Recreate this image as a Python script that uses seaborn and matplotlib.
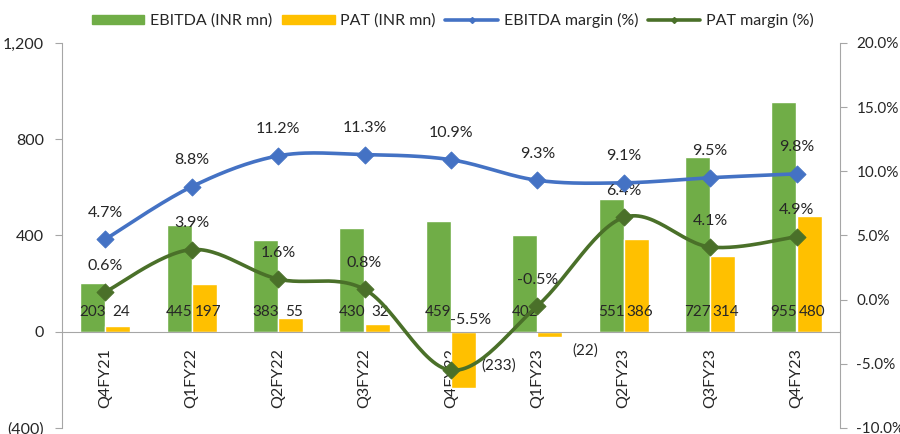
import numpy as np
import pandas as pd
import matplotlib
matplotlib.use('Agg')
import matplotlib.pyplot as plt
import seaborn as sns
from matplotlib.patches import Patch
from matplotlib.lines import Line2D
from matplotlib.ticker import FuncFormatter, FixedLocator

quarters = ['Q4FY21', 'Q1FY22', 'Q2FY22', 'Q3FY22', 'Q4FY22', 'Q1FY23', 'Q2FY23', 'Q3FY23', 'Q4FY23']
ebitda = [203, 445, 383, 430, 459, 402, 551, 727, 955]
pat = [24, 197, 55, 32, -233, -22, 386, 314, 480]
ebitda_margin = [4.7, 8.8, 11.2, 11.3, 10.9, 9.3, 9.1, 9.5, 9.8]
pat_margin = [0.6, 3.9, 1.6, 0.8, -5.5, -0.5, 6.4, 4.1, 4.9]

GREEN = '#70AD47'
YELLOW = '#FFC000'
BLUE = '#4472C4'
DKGREEN = '#4A7029'
AXIS = '#A6A6A6'


def smooth(x, y, n=30):
    # Catmull-Rom style curve through the points, similar to Excel's smoothed line
    x = np.asarray(x, float)
    y = np.asarray(y, float)
    px = np.concatenate([[x[0]], x, [x[-1]]])
    py = np.concatenate([[y[0]], y, [y[-1]]])
    xs, ys = [], []
    t = np.linspace(0, 1, n)
    for i in range(1, len(px) - 2):
        for p, out in ((px, xs), (py, ys)):
            p0, p1, p2, p3 = p[i - 1], p[i], p[i + 1], p[i + 2]
            seg = 0.5 * ((2 * p1) + (-p0 + p2) * t + (2 * p0 - 5 * p1 + 4 * p2 - p3) * t ** 2
                         + (-p0 + 3 * p1 - 3 * p2 + p3) * t ** 3)
            out.extend(seg)
    return np.array(xs), np.array(ys)


sns.set_style('white')
plt.rcParams['font.family'] = ['Lato', 'DejaVu Sans']

df = pd.DataFrame({
    'Quarter': quarters * 2,
    'Value': ebitda + pat,
    'Series': ['EBITDA (INR mn)'] * len(quarters) + ['PAT (INR mn)'] * len(quarters),
})

fig = plt.figure(figsize=(9, 4.34), dpi=100)
ax = fig.add_axes([0.069, 0.014, 0.864, 0.887])
sns.barplot(data=df, x='Quarter', y='Value', hue='Series', palette=[GREEN, YELLOW],
            width=0.58, ax=ax, legend=False, saturation=1)
ax.set_ylim(-400, 1200)
ax.set_xlim(-0.5, len(quarters) - 0.5)
ax.set_xlabel('')
ax.set_ylabel('')
ax.yaxis.set_major_locator(FixedLocator([-400, 0, 400, 800, 1200]))
ax.yaxis.set_major_formatter(FuncFormatter(lambda v, p: f'({abs(v):,.0f})' if v < 0 else f'{v:,.0f}'))
ax.spines['top'].set_visible(False)
ax.spines['right'].set_visible(False)
ax.spines['left'].set_color(AXIS)
ax.spines['bottom'].set_color(AXIS)
ax.spines['bottom'].set_position(('data', 0))
ax.tick_params(axis='y', length=5, color=AXIS, labelsize=11.5, pad=8)
ax.set_xticks(range(len(quarters)))
ax.set_xticklabels(quarters, rotation=90, fontsize=11.5)
ax.tick_params(axis='x', which='major', length=0, pad=12)
ax.set_xticks(np.arange(-0.5, len(quarters)), minor=True)
ax.tick_params(axis='x', which='minor', length=5, color=AXIS, direction='out')

w = 0.29
for i in range(len(quarters)):
    ax.text(i - w / 2, 83, f'{ebitda[i]}', ha='center', va='center', fontsize=11)
    if pat[i] >= 0:
        ax.text(i + w / 2 + 0.04, 83, f'{pat[i]}', ha='center', va='center', fontsize=11)
    else:
        ax.text(i + 0.55, min(pat[i] * 0.6, -80), f'({abs(pat[i])})', ha='center', va='center', fontsize=11)

ax2 = ax.twinx()
ax2.set_position(ax.get_position())
ax2.set_ylim(-10, 20)
ax2.yaxis.set_major_locator(FixedLocator(np.arange(-10, 21, 5)))
ax2.yaxis.set_major_formatter(FuncFormatter(lambda v, p: f'{v:.1f}%'))
for s in ['top', 'bottom', 'left']:
    ax2.spines[s].set_visible(False)
ax2.spines['right'].set_color(AXIS)
ax2.tick_params(axis='y', length=5, color=AXIS, labelsize=11, pad=7)

xpos = np.arange(len(quarters))
# the -5.5% label sits higher and to the right in the original
label_shift = {('pat', 4): (14, 36)}
for key, vals, col in (('ebitda', ebitda_margin, BLUE), ('pat', pat_margin, DKGREEN)):
    sx, sy = smooth(xpos, vals)
    ax2.plot(sx, sy, color=col, lw=2.6, solid_capstyle='round', zorder=3)
    sns.scatterplot(x=xpos, y=vals, marker='D', s=75, color=col, edgecolor=col, ax=ax2, zorder=4)
    for i, v in enumerate(vals):
        off = label_shift.get((key, i), (0, 19))
        ax2.annotate(f'{v:.1f}%', (i, v), xytext=off, textcoords='offset points',
                     ha='center', va='center', fontsize=11.5)

handles = [
    Patch(color=GREEN, label='EBITDA (INR mn)'),
    Patch(color=YELLOW, label='PAT (INR mn)'),
    Line2D([], [], color=BLUE, lw=2.6, marker='D', markersize=3, label='EBITDA margin (%)'),
    Line2D([], [], color=DKGREEN, lw=2.6, marker='D', markersize=3, label='PAT margin (%)'),
]
fig.legend(handles=handles, loc='upper center', bbox_to_anchor=(0.503, 1.0), ncol=4, frameon=False,
           fontsize=11.5, handlelength=3.3, handleheight=0.5, columnspacing=0.6, handletextpad=0.35,
           borderpad=0.3)

fig.savefig('out.png', dpi=100)
